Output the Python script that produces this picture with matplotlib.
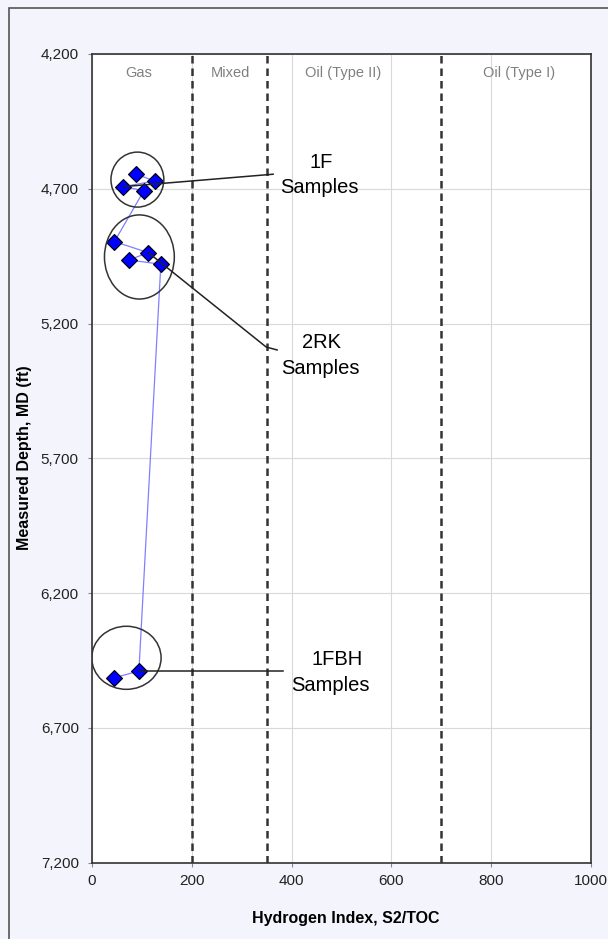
import matplotlib.pyplot as plt
from matplotlib.patches import Ellipse, Rectangle

plt.rcParams['font.family'] = ['Liberation Sans', 'DejaVu Sans']

# samples ordered by depth
hi = [88, 126, 63, 104, 45, 113, 74, 138, 94, 45]
depth = [4646, 4671, 4692, 4707, 4896, 4937, 4964, 4980, 6489, 6514]

zone_bounds = [200, 350, 700]
zone_names = ["Gas", "Mixed", "Oil (Type II)", "Oil (Type I)"]
zone_x = [94, 278, 503, 855]

# sample groups: (label, centre x, centre depth, width, height)
groups = [("1F", 91, 4666, 106, 204),
          ("2RK", 95, 4953, 140, 312),
          ("1FBH", 69, 6440, 139, 234)]

fig = plt.figure(figsize=(6.08, 9.39), dpi=100)
fig.patch.set_facecolor("#f4f4fc")
fig.patches.append(Rectangle((9 / 608, -0.05), 1.1, 1 - 8 / 939 + 0.05,
                             transform=fig.transFigure, fill=False,
                             edgecolor="#555555", linewidth=1.2))

ax = fig.add_axes([0.1513, 0.0813, 0.972 - 0.1513, 0.9425 - 0.0813])
ax.set_facecolor("white")

ax.set_xlim(0, 1000)
ax.set_ylim(7200, 4200)
ax.set_xticks(range(0, 1001, 200))
ax.set_yticks(range(4200, 7201, 500))
ax.set_yticklabels([f"{v:,}" for v in range(4200, 7201, 500)])
ax.grid(True, color="#d9d9d9", linewidth=0.8)
ax.set_axisbelow(True)
ax.tick_params(labelsize=11, length=3, color="#888888", labelcolor="#222222")
ax.tick_params(axis="y", pad=6.5)
ax.tick_params(axis="x", pad=5)
for s in ax.spines.values():
    s.set_color("#333333")
    s.set_linewidth(1.2)

for b in zone_bounds:
    ax.axvline(b, color="#333333", linestyle=(0, (3, 2)), linewidth=1.8, zorder=2)
for name, x in zip(zone_names, zone_x):
    ax.text(x, 4269, name, ha="center", va="center", fontsize=10.5, color="#808080")

ax.plot(hi, depth, color="#8080ff", linewidth=0.9, zorder=3)
ax.plot(hi, depth, linestyle="none", marker="D", markersize=8,
        markerfacecolor="#0000ff", markeredgecolor="black", markeredgewidth=0.8, zorder=4)

for name, cx, cy, w, h in groups:
    ax.add_patch(Ellipse((cx, cy), w, h, fill=False, edgecolor="#333333",
                         linewidth=1.1, zorder=5))

# callout lines
ax.plot([63, 363], [4692, 4646], color="#222222", linewidth=1.1, zorder=5)
ax.plot([113, 349, 371], [4937, 5287, 5298], color="#222222", linewidth=1.1, zorder=5)
ax.plot([94, 383], [6489, 6489], color="#222222", linewidth=1.1, zorder=5)

ax.text(459, 4604, "1F", ha="center", va="center", fontsize=14.5)
ax.text(455, 4697, "Samples", ha="center", va="center", fontsize=14.5)
ax.text(459, 5272, "2RK", ha="center", va="center", fontsize=14.5)
ax.text(457, 5365, "Samples", ha="center", va="center", fontsize=14.5)
ax.text(491, 6448, "1FBH", ha="center", va="center", fontsize=14.5)
ax.text(477, 6541, "Samples", ha="center", va="center", fontsize=14.5)

fig.text(346 / 608, 1 - 919 / 939, "Hydrogen Index, S2/TOC", ha="center", va="center",
         fontsize=11.5, fontweight="bold")
fig.text(25 / 608, 1 - 458 / 939, "Measured Depth, MD (ft)", ha="center", va="center",
         rotation=90, fontsize=11.5, fontweight="bold")

fig.savefig("out.png", dpi=100, facecolor=fig.get_facecolor())
